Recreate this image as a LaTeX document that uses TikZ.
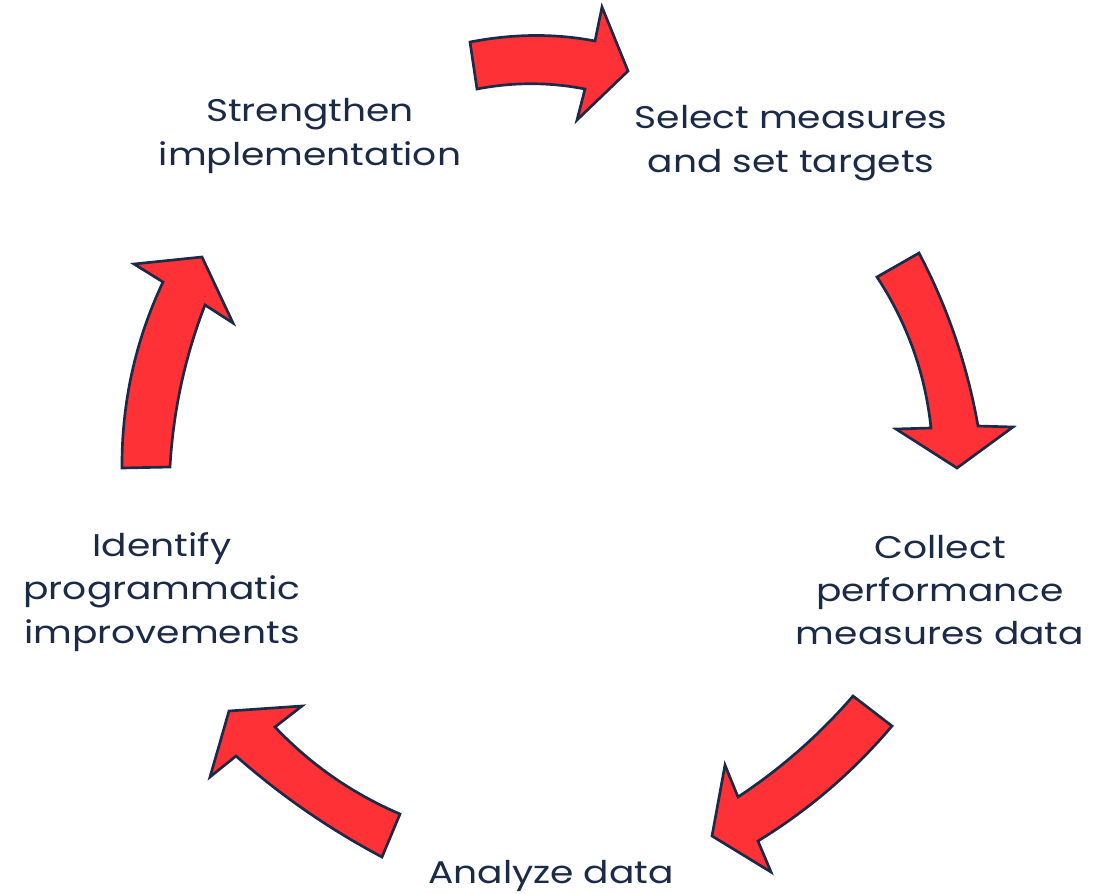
\documentclass[tikz,border=0pt]{standalone}
\usepackage{fontspec}
\setmainfont{Poppins}[FakeStretch=1.2]
\definecolor{navy}{HTML}{1B2A47}
\definecolor{arrowred}{HTML}{FE3236}
\begin{document}
\begin{tikzpicture}[x=0.75pt,y=-0.75pt,
  cyclearrow/.style={fill=arrowred,draw=navy,line width=2pt,line join=miter},
  steplabel/.style={font=\fontsize{23.5}{32.5}\selectfont,text=navy,align=center,inner sep=0pt}]
\useasboundingbox (0,0) rectangle (1107,893);

% arrow top: strengthen -> select
\draw[cyclearrow] (470,42) .. controls (512,34) and (553,33) .. (595,41)
  -- (602,7) -- (628,71) -- (577,120) -- (585,89)
  .. controls (549,82) and (513,82) .. (477,89) -- cycle;

% arrow right: select -> collect
\draw[cyclearrow] (877,277) -- (919,253)
  .. controls (947.7,307.6) and (967.3,365.2) .. (978,426)
  -- (1013,427) -- (957,468) -- (896,429) -- (931,428)
  .. controls (925.2,373.3) and (907.2,322.9) .. (877,277) -- cycle;

% arrow bottom right: collect -> analyze
\draw[cyclearrow] (853,696) -- (892,726)
  .. controls (853.5,771.5) and (808.9,809.9) .. (758,841)
  -- (771,872) -- (712,836) -- (725,765) -- (738,797)
  .. controls (780.9,768.6) and (819.3,735) .. (853,696) -- cycle;

% arrow bottom left: analyze -> identify
\draw[cyclearrow] (302,706) -- (275,727)
  .. controls (310.7,764.6) and (352.3,793.6) .. (400,814)
  -- (382,857)
  .. controls (329.3,829.1) and (280.7,795.5) .. (236,756)
  -- (210,777) -- (229,711) -- cycle;

% arrow left: identify -> strengthen
\draw[cyclearrow] (122,468) -- (170,467)
  .. controls (173.2,411.2) and (184.8,357.2) .. (205,305)
  -- (233,323) -- (202,257) -- (134,264) -- (163,282)
  .. controls (135.2,340.9) and (121.6,402.9) .. (122,468) -- cycle;

\node[steplabel] (strengthen) at (310,136) {Strengthen\\implementation};
\node[steplabel] (select) at (791,143) {Select measures\\and set targets};
\node[steplabel] (collect) at (940,590) {Collect\\performance\\measures data};
\node[steplabel,anchor=base] (analyze) at (551,883) {Analyze data};
\node[steplabel] (identify) at (162,592) {Identify\\programmatic\\improvements};
\end{tikzpicture}
\end{document}
